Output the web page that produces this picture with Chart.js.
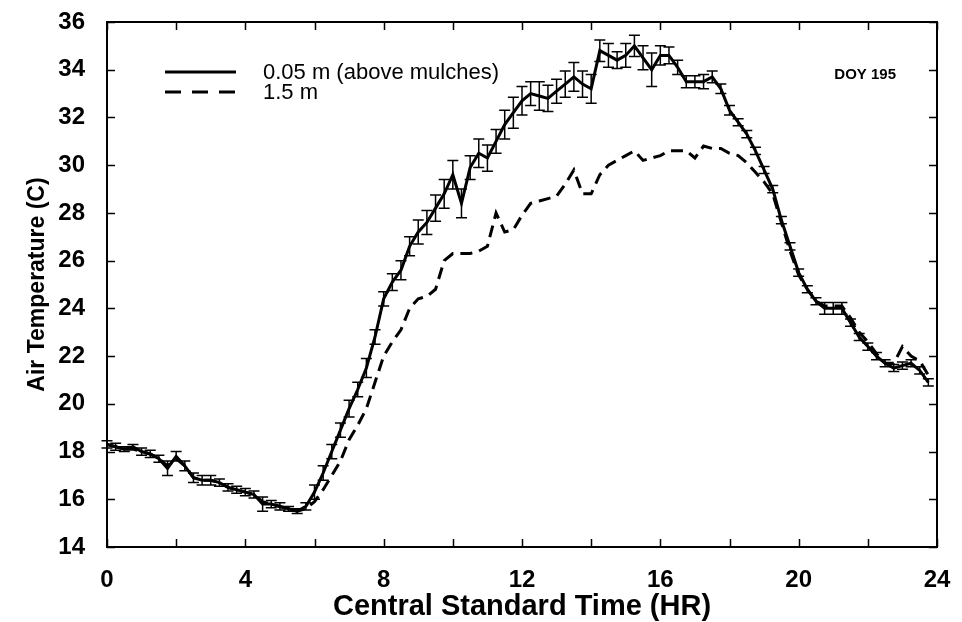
<!DOCTYPE html>
<html>
<head>
<meta charset="utf-8">
<script src="https://cdn.jsdelivr.net/npm/chart.js@4.4.1/dist/chart.umd.min.js"></script>
<style>
html,body{margin:0;padding:0;background:#fff;}
#wrap{width:962px;height:622px;position:relative;}
</style>
</head>
<body>
<div id="wrap"><canvas id="c"></canvas></div>
<script>
// Hour of day (CST)
const hours = [
 0.00,0.25,0.50,0.75,1.00,1.25,1.50,1.75,2.00,2.25,2.50,2.75,
 3.00,3.25,3.50,3.75,4.00,4.25,4.50,4.75,5.00,5.25,5.50,5.75,
 6.00,6.25,6.50,6.75,7.00,7.25,7.50,7.75,8.00,8.25,8.50,8.75,
 9.00,9.25,9.50,9.75,10.00,10.25,10.50,10.75,11.00,11.25,11.50,11.75,
 12.00,12.25,12.50,12.75,13.00,13.25,13.50,13.75,14.00,14.25,14.50,14.75,
 15.00,15.25,15.50,15.75,16.00,16.25,16.50,16.75,17.00,17.25,17.50,17.75,
 18.00,18.25,18.50,18.75,19.00,19.25,19.50,19.75,20.00,20.25,20.50,20.75,
 21.00,21.25,21.50,21.75,22.00,22.25,22.50,22.75,23.00,23.25,23.50,23.75
];
// Air temperature at 0.05 m (above mulches), C
const temp005 = [
 18.3,18.2,18.1,18.2,18.0,17.9,17.7,17.3,17.8,17.4,16.9,16.8,
 16.8,16.7,16.5,16.4,16.3,16.2,15.8,15.8,15.7,15.6,15.5,15.7,
 16.3,17.1,18.0,18.9,19.8,20.6,21.5,22.8,24.4,25.1,25.6,26.6,
 27.2,27.6,28.2,28.8,29.6,28.4,29.9,30.5,30.3,31.0,31.7,32.2,
 32.7,33.0,32.9,32.8,33.1,33.4,33.7,33.4,33.2,34.8,34.6,34.4,
 34.6,35.0,34.5,34.0,34.6,34.6,34.1,33.5,33.5,33.5,33.7,33.2,
 32.3,31.8,31.3,30.6,29.8,29.0,27.7,26.6,25.5,24.8,24.3,24.0,
 24.0,24.0,23.4,22.8,22.4,22.0,21.7,21.5,21.6,21.7,21.4,20.9
];
// Error bar half-range for 0.05 m series, C
const err005 = [
 0.15,0.15,0.10,0.10,0.15,0.15,0.15,0.30,
 0.20,0.20,0.20,0.20,0.20,0.15,0.15,0.15,
 0.15,0.15,0.30,0.15,0.15,0.10,0.10,0.15,
 0.30,0.30,0.30,0.30,0.35,0.30,0.40,0.30,
 0.30,0.35,0.40,0.40,0.50,0.50,0.55,0.60,
 0.60,0.60,0.50,0.60,0.55,0.50,0.60,0.65,
 0.60,0.50,0.60,0.55,0.50,0.55,0.60,0.55,
 0.60,0.45,0.50,0.35,0.50,0.45,0.50,0.70,
 0.40,0.35,0.30,0.25,0.25,0.30,0.25,0.20,
 0.20,0.15,0.15,0.15,0.15,0.15,0.15,0.15,
 0.15,0.15,0.15,0.25,0.25,0.25,0.15,0.15,
 0.15,0.15,0.15,0.15,0.15,0.15,0.15,0.15
];
// Air temperature at 1.5 m, C
const temp15 = [
 18.3,18.2,18.1,18.1,18.0,17.9,17.7,17.4,17.7,17.4,16.9,16.8,
 16.8,16.7,16.5,16.4,16.3,16.2,15.9,15.8,15.7,15.6,15.5,15.6,
 15.9,16.4,17.0,17.6,18.5,19.1,19.8,20.9,22.0,22.6,23.1,24.0,
 24.4,24.5,24.8,26.0,26.3,26.3,26.3,26.4,26.6,28.0,27.2,27.3,
 27.9,28.4,28.5,28.6,28.7,29.2,29.8,28.8,28.8,29.6,30.0,30.2,
 30.4,30.6,30.2,30.3,30.4,30.6,30.6,30.6,30.3,30.8,30.7,30.7,
 30.5,30.4,30.1,29.7,29.3,28.8,27.6,26.4,25.4,24.8,24.3,24.1,
 24.1,24.1,23.6,23.0,22.6,22.1,21.7,21.7,22.4,22.0,21.8,21.2
];
const yTickValues = [14,16,18,20,22,24,26,28,30,32,34,36];
const xTickValues = [0,2,4,6,8,10,12,14,16,18,20,22,24];
const xLabelValues = [0,4,8,12,16,20,24];
const seriesNames = ['0.05 m (above mulches)', '1.5 m'];
const panelLabel = 'DOY 195';

const FONT = '"Liberation Sans", Arial, Helvetica, sans-serif';
const toXY = (ys) => hours.map((h, i) => ({x: h, y: ys[i]}));

const framePlugin = {
  id: 'frame',
  afterDraw(chart) {
    const {ctx, chartArea: a, scales: {x, y}} = chart;
    ctx.save();
    ctx.strokeStyle = '#000';
    ctx.lineWidth = 2;
    ctx.strokeRect(a.left, a.top, a.right - a.left, a.bottom - a.top);
    ctx.lineWidth = 1.5;
    const tl = 8;
    ctx.beginPath();
    yTickValues.forEach(v => {
      const py = Math.round(y.getPixelForValue(v)) + 0.5;
      ctx.moveTo(a.left, py); ctx.lineTo(a.left + tl, py);
      ctx.moveTo(a.right, py); ctx.lineTo(a.right - tl, py);
    });
    xTickValues.forEach(v => {
      const px = Math.round(x.getPixelForValue(v)) + 0.5;
      ctx.moveTo(px, a.bottom); ctx.lineTo(px, a.bottom - tl);
      ctx.moveTo(px, a.top); ctx.lineTo(px, a.top + tl);
    });
    ctx.stroke();
    ctx.restore();
  }
};

const errPlugin = {
  id: 'errbars',
  beforeDatasetsDraw(chart) {
    const {ctx, scales: {x, y}} = chart;
    ctx.save();
    ctx.strokeStyle = '#000';
    ctx.lineWidth = 1.5;
    const cap = 5.5;
    ctx.beginPath();
    hours.forEach((h, i) => {
      const px = x.getPixelForValue(h);
      const yt = y.getPixelForValue(temp005[i] + err005[i]);
      const yb = y.getPixelForValue(temp005[i] - err005[i]);
      ctx.moveTo(px, yt); ctx.lineTo(px, yb);
      ctx.moveTo(px - cap, yt); ctx.lineTo(px + cap, yt);
      ctx.moveTo(px - cap, yb); ctx.lineTo(px + cap, yb);
    });
    ctx.stroke();
    ctx.restore();
  }
};

const legendPlugin = {
  id: 'legendInside',
  afterDraw(chart) {
    const {ctx, chartArea: a} = chart;
    ctx.save();
    ctx.strokeStyle = '#000';
    ctx.fillStyle = '#000';
    ctx.lineWidth = 3;
    const x0 = a.left + 58, x1 = a.left + 129, tx = a.left + 156;
    const rows = [a.top + 50, a.top + 70];
    ctx.setLineDash([]);
    ctx.beginPath(); ctx.moveTo(x0, rows[0]); ctx.lineTo(x1, rows[0]); ctx.stroke();
    ctx.setLineDash([16, 11]);
    ctx.beginPath(); ctx.moveTo(x0, rows[1]); ctx.lineTo(x1, rows[1]); ctx.stroke();
    ctx.setLineDash([]);
    ctx.font = '22px ' + FONT;
    ctx.textBaseline = 'middle';
    ctx.textAlign = 'left';
    ctx.fillText(seriesNames[0], tx, rows[0] + 1);
    ctx.fillText(seriesNames[1], tx, rows[1] + 1);
    ctx.font = 'bold 15px ' + FONT;
    ctx.textAlign = 'right';
    ctx.fillText(panelLabel, a.right - 41, a.top + 53);
    ctx.restore();
  }
};

new Chart(document.getElementById('c'), {
  type: 'line',
  data: {
    datasets: [
      {
        label: seriesNames[0],
        data: toXY(temp005),
        borderColor: '#000',
        borderWidth: 3,
        pointRadius: 0,
        tension: 0,
        fill: false
      },
      {
        label: seriesNames[1],
        data: toXY(temp15),
        borderColor: '#000',
        borderWidth: 3,
        borderDash: [12, 7],
        pointRadius: 0,
        tension: 0,
        fill: false
      }
    ]
  },
  options: {
    responsive: true,
    maintainAspectRatio: false,
    animation: false,
    layout: {padding: {top: 22, right: 25, left: 24, bottom: 0}},
    plugins: {legend: {display: false}, tooltip: {enabled: false}},
    scales: {
      x: {
        type: 'linear',
        min: 0, max: 24,
        afterBuildTicks(scale) { scale.ticks = xLabelValues.map(v => ({value: v})); },
        grid: {display: false},
        border: {display: false},
        ticks: {color: '#000', font: {family: FONT, size: 24, weight: 'bold'}, padding: 11, maxRotation: 0},
        title: {display: true, text: 'Central Standard Time (HR)', color: '#000',
                font: {family: FONT, size: 29, weight: 'bold'}, padding: {top: 0, bottom: -2}},
        afterFit(scale) { scale.height = 75; scale.paddingLeft = 0; scale.paddingRight = 0; }
      },
      y: {
        min: 14, max: 36,
        afterBuildTicks(scale) { scale.ticks = yTickValues.map(v => ({value: v})); },
        grid: {display: false},
        border: {display: false},
        ticks: {color: '#000', font: {family: FONT, size: 24, weight: 'bold'}, padding: 14},
        title: {display: true, text: 'Air Temperature (C)', color: '#000',
                font: {family: FONT, size: 23, weight: 'bold'}, padding: {top: 0, bottom: 0}},
        afterFit(scale) { scale.width = 83; scale.paddingTop = 0; scale.paddingBottom = 0; }
      }
    }
  },
  plugins: [errPlugin, framePlugin, legendPlugin]
});
</script>
</body>
</html>
